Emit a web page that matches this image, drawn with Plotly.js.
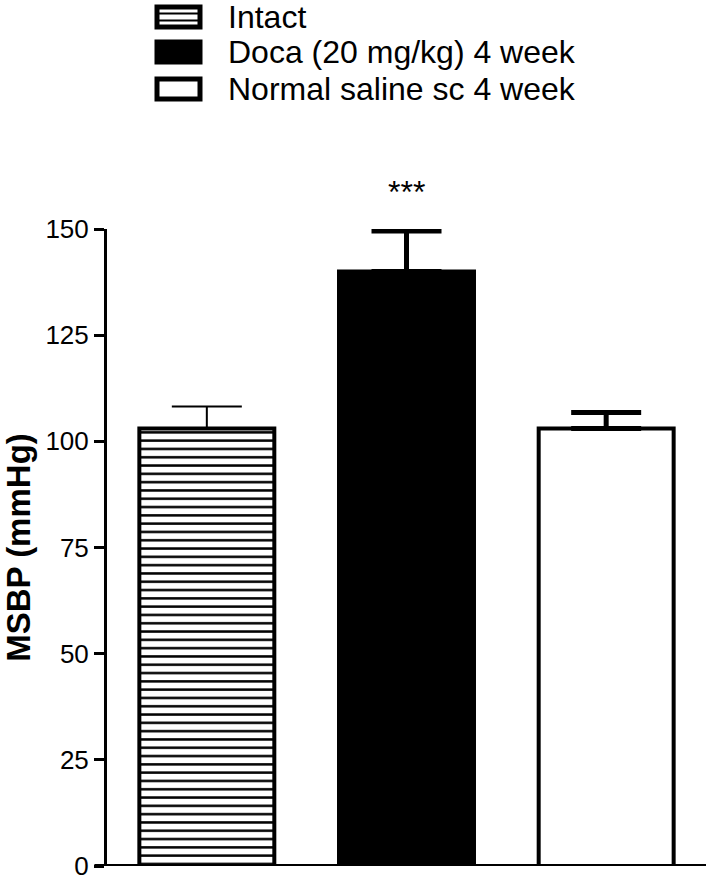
<!DOCTYPE html>
<html>
<head>
<meta charset="utf-8">
<script src="https://cdn.plot.ly/plotly-3.0.1.min.js"></script>
<style>html,body{margin:0;padding:0;background:#fff;}#chart{width:706px;height:875px;}</style>
</head>
<body>
<div id="chart"></div>
<script>
const groups = ["Intact", "Doca (20 mg/kg) 4 week", "Normal saline sc 4 week"];
const msbp = [103, 140, 103];
const semUp = [5.2, 9.5, 3.8];
const yTicks = [0, 25, 50, 75, 100, 125, 150];
const significance = ["", "***", ""];

const fills = [
  {color: "#ffffff", pattern: {shape: "-", fgcolor: "#000000", bgcolor: "#ffffff", size: 8.3, solidity: 0.3, fillmode: "replace"}},
  {color: "#000000"},
  {color: "#ffffff"}
];
const errThick = [2, 5, 5];

const traces = groups.map((g, i) => ({
  type: "bar",
  x: [i],
  y: [msbp[i]],
  name: g,
  width: 0.676,
  marker: Object.assign({line: {color: "#000000", width: 4}}, fills[i]),
  error_y: {type: "data", symmetric: false, array: [semUp[i]], arrayminus: [0], color: "#000000", thickness: errThick[i], width: 35},
  cliponaxis: false,
  showlegend: false,
  hoverinfo: "skip"
}));

const shapes = [];
const annotations = [];
// x-axis baseline (extends slightly left of y-axis)
shapes.push({type: "line", xref: "paper", yref: "y", x0: -0.021, x1: 1, y0: 0, y1: 0, line: {color: "#000", width: 4}});

// custom legend
const legTop = [17, 52, 89];
groups.forEach((g, i) => {
  const yc = legTop[i];
  const y0p = 1 + (229 - (yc - 10)) / 637;
  const y1p = 1 + (229 - (yc + 10)) / 637;
  const x0p = (157 - 107) / 599, x1p = (200 - 107) / 599;
  shapes.push({type: "rect", xref: "paper", yref: "paper", x0: x0p, x1: x1p, y0: y1p, y1: y0p,
    line: {color: "#000", width: 5}, fillcolor: i === 1 ? "#000" : "#fff"});
  if (i === 0) {
    [-3.5, 3.5].forEach(d => {
      const yy = 1 + (229 - (yc + d)) / 637;
      shapes.push({type: "line", xref: "paper", yref: "paper", x0: x0p, x1: x1p, y0: yy, y1: yy, line: {color: "#000", width: 2}});
    });
  }
  annotations.push({xref: "paper", yref: "paper", x: (226 - 107) / 599, y: 1 + (229 - yc) / 637,
    xanchor: "left", yanchor: "middle", text: g, showarrow: false,
    font: {family: "Liberation Sans, Arial, sans-serif", size: 32, color: "#000"}});
});

const yMax = yTicks[yTicks.length - 1];
significance.forEach((s, i) => {
  if (s) annotations.push({x: i, y: (msbp[i] + semUp[i] + 14) / yMax, xref: "x", yref: "paper", text: s, showarrow: false,
    font: {family: "Liberation Sans, Arial, sans-serif", size: 32, color: "#000"}});
});

const layout = {
  width: 706, height: 875,
  margin: {l: 107, r: 0, t: 229, b: 9, pad: 0},
  paper_bgcolor: "#fff", plot_bgcolor: "#fff",
  showlegend: false,
  xaxis: {range: [-0.5, 2.5], showticklabels: false, ticks: "", showgrid: false, zeroline: false, showline: false, fixedrange: true},
  yaxis: {range: [0, yMax], tickvals: yTicks, ticktext: yTicks.map(String), ticks: "outside", ticklen: 10, tickwidth: 3, tickcolor: "#000",
    ticklabeloverflow: "allow",
    showline: true, linewidth: 3, linecolor: "#000", showgrid: false, zeroline: false,
    tickfont: {family: "Liberation Sans, Arial, sans-serif", size: 26, color: "#000"},
    title: {text: "<b>MSBP (mmHg)</b>", standoff: 8, font: {family: "Liberation Sans, Arial, sans-serif", size: 33, color: "#000"}}},
  shapes: shapes,
  annotations: annotations
};

Plotly.newPlot("chart", traces, layout, {displayModeBar: false, staticPlot: true});
</script>
</body>
</html>
